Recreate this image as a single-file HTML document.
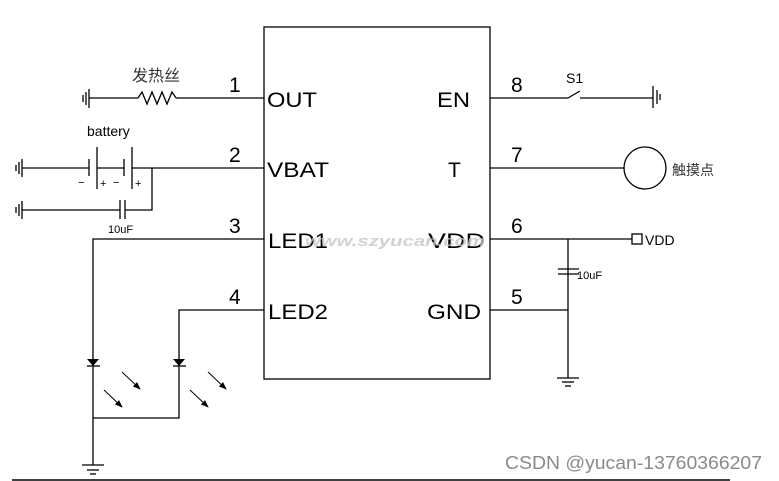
<!DOCTYPE html>
<html><head><meta charset="utf-8"><style>
html,body{margin:0;padding:0;background:#fff;width:779px;height:481px;overflow:hidden}
svg{display:block}
text{font-family:"Liberation Sans","Noto Sans CJK SC",sans-serif}
</style></head><body>
<svg width="779" height="481" viewBox="0 0 779 481" xmlns="http://www.w3.org/2000/svg">
<defs><marker id="ah" markerWidth="8" markerHeight="8" refX="7" refY="4" orient="auto" markerUnits="userSpaceOnUse"><path d="M0,1 L8,4 L0,7 Z" fill="#000"/></marker></defs>
<g stroke="#000" stroke-width="1.3" fill="none">
<rect x="264" y="27" width="226" height="352"/>
<line x1="89" y1="98" x2="138" y2="98"/>
<polyline points="138,98 142,92 147,104 152,92 157,104 162,92 167,104 172,92 176,98"/>
<line x1="176" y1="98" x2="264" y2="98"/>
<line x1="89" y1="89" x2="89" y2="108"/><line x1="86" y1="92" x2="86" y2="105"/><line x1="83" y1="95" x2="83" y2="102"/>
<line x1="22" y1="168" x2="89" y2="168"/>
<line x1="89" y1="159" x2="89" y2="176"/><line x1="97" y1="147" x2="97" y2="189"/>
<line x1="97" y1="168" x2="124" y2="168"/>
<line x1="124" y1="159" x2="124" y2="176"/><line x1="132" y1="147" x2="132" y2="189"/>
<line x1="132" y1="168" x2="264" y2="168"/>
<line x1="22" y1="159" x2="22" y2="177"/><line x1="19" y1="162" x2="19" y2="174"/><line x1="16" y1="165" x2="16" y2="171"/>
<line x1="22" y1="210" x2="120" y2="210"/>
<line x1="120" y1="200" x2="120" y2="219"/><line x1="125" y1="200" x2="125" y2="219"/>
<polyline points="125,210 152,210 152,168"/>
<line x1="22" y1="201" x2="22" y2="219"/><line x1="19" y1="204" x2="19" y2="216"/><line x1="16" y1="207" x2="16" y2="213"/>
<polyline points="264,239 93,239 93,465"/>
<polyline points="264,310 179,310 179,418 93,418"/>
<line x1="82" y1="465" x2="104" y2="465"/><line x1="87" y1="470" x2="99" y2="470"/><line x1="90" y1="474" x2="96" y2="474"/>
<line x1="87" y1="366" x2="100" y2="366"/><line x1="173" y1="366" x2="186" y2="366"/>
<g stroke-width="1"><line x1="122" y1="372" x2="140" y2="389" marker-end="url(#ah)"/><line x1="104" y1="390" x2="122" y2="407" marker-end="url(#ah)"/>
<line x1="208" y1="372" x2="226" y2="389" marker-end="url(#ah)"/><line x1="190" y1="390" x2="208" y2="407" marker-end="url(#ah)"/></g>
<line x1="490" y1="98" x2="568" y2="98"/><line x1="568" y1="98" x2="580" y2="91"/><line x1="580" y1="98" x2="653" y2="98"/>
<line x1="653" y1="86" x2="653" y2="108"/><line x1="657" y1="90" x2="657" y2="104"/><line x1="660" y1="94" x2="660" y2="100"/>
<line x1="490" y1="168" x2="624" y2="168"/>
<circle cx="645" cy="168" r="21"/>
<line x1="490" y1="239" x2="632" y2="239"/>
<rect x="632" y="234" width="10" height="10"/>
<line x1="568" y1="239" x2="568" y2="378"/>
<line x1="558" y1="269" x2="579" y2="269"/><line x1="558" y1="274" x2="579" y2="274"/>
<line x1="490" y1="310" x2="568" y2="310"/>
<line x1="557" y1="378" x2="579" y2="378"/><line x1="562" y1="382" x2="574" y2="382"/><line x1="565" y1="386" x2="571" y2="386"/>
<line x1="12" y1="480" x2="730" y2="480" stroke-width="1.5"/>
</g>
<path d="M87,359 L99,359 L93,366 Z M173,359 L185,359 L179,366 Z" fill="#000"/>
<g font-size="21" fill="#000">
<text x="229" y="92">1</text><text x="229" y="162">2</text><text x="229" y="233">3</text><text x="229" y="304">4</text>
<text x="511" y="92">8</text><text x="511" y="162">7</text><text x="511" y="233">6</text><text x="511" y="304">5</text>
<text x="267" y="107" textLength="50" lengthAdjust="spacingAndGlyphs">OUT</text>
<text x="267" y="177" textLength="62" lengthAdjust="spacingAndGlyphs">VBAT</text>
<text x="268" y="248" textLength="60" lengthAdjust="spacingAndGlyphs">LED1</text>
<text x="268" y="319" textLength="60" lengthAdjust="spacingAndGlyphs">LED2</text>
<text x="437" y="107" textLength="33" lengthAdjust="spacingAndGlyphs">EN</text>
<text x="448" y="177">T</text>
<text x="428" y="248" textLength="57" lengthAdjust="spacingAndGlyphs">VDD</text>
<text x="427" y="319" textLength="54" lengthAdjust="spacingAndGlyphs">GND</text>
</g>
<text x="305" y="246" font-size="15" font-style="italic" font-weight="bold" fill="#c8c8c8" opacity="0.8" textLength="180" lengthAdjust="spacingAndGlyphs">www.szyucan.com</text>
<g font-size="14" fill="#000">
<text x="87" y="136">battery</text>
<text x="566" y="83">S1</text>
<text x="645" y="245">VDD</text>
</g>
<g font-size="11" fill="#000">
<text x="108" y="233">10uF</text><text x="577" y="279">10uF</text>
<text x="78" y="186">−</text><text x="100" y="187">+</text><text x="113" y="186">−</text><text x="135" y="187">+</text>
</g>
<text x="132" y="81" font-size="16" fill="#333">发热丝</text>
<text x="672" y="175" font-size="14" fill="#333">触摸点</text>
<text x="505" y="469" font-size="18" fill="#8a8a8a" textLength="257" lengthAdjust="spacingAndGlyphs">CSDN @yucan-13760366207</text>
</svg>
</body></html>
